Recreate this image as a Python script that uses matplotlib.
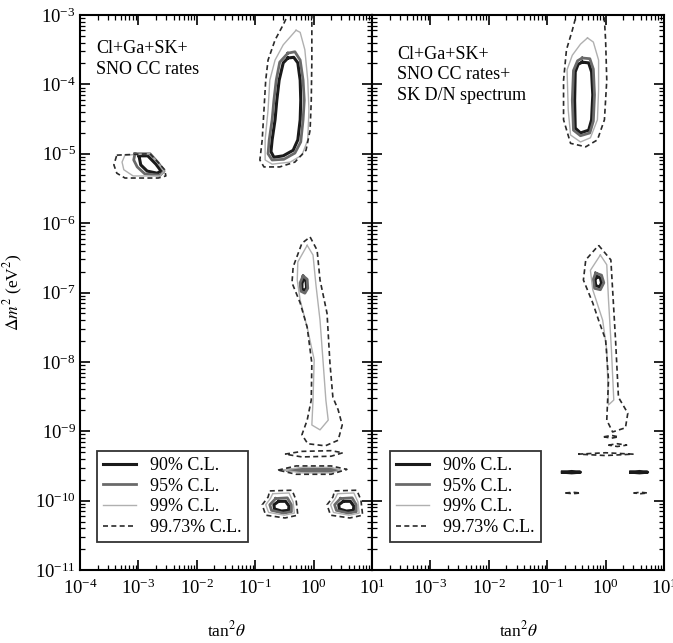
import numpy as np
import matplotlib
matplotlib.use('Agg')
import matplotlib.pyplot as plt
from matplotlib.lines import Line2D

plt.rcParams['font.family'] = 'serif'
plt.rcParams['font.serif'] = ['Liberation Serif', 'DejaVu Serif']
plt.rcParams['mathtext.fontset'] = 'stix'

# ── Contornos: (log10 tan^2θ, log10 Δm^2) ────────────────────────────────────
# Panel izquierdo: Cl+Ga+SK+SNO CC rates
L_LMA_90 = [(-0.44, -3.62), (-0.34, -3.61), (-0.27, -3.69), (-0.23, -3.94), (-0.22, -4.23),
            (-0.23, -4.51), (-0.27, -4.80), (-0.35, -4.95), (-0.52, -5.03), (-0.68, -5.05),
            (-0.73, -4.97), (-0.71, -4.80), (-0.66, -4.51), (-0.63, -4.23), (-0.59, -3.94),
            (-0.52, -3.69)]
L_LMA_95 = [(-0.44, -3.55), (-0.32, -3.53), (-0.23, -3.65), (-0.18, -3.94), (-0.16, -4.23),
            (-0.18, -4.51), (-0.22, -4.83), (-0.32, -4.99), (-0.51, -5.08), (-0.71, -5.09),
            (-0.78, -5.00), (-0.76, -4.80), (-0.71, -4.51), (-0.68, -4.23), (-0.64, -3.94),
            (-0.58, -3.68)]
L_LMA_99 = [(-0.30, -3.22), (-0.23, -3.25), (-0.15, -3.50), (-0.10, -3.94), (-0.08, -4.37),
            (-0.10, -4.80), (-0.20, -5.02), (-0.40, -5.12), (-0.71, -5.15), (-0.83, -5.09),
            (-0.83, -4.80), (-0.78, -4.37), (-0.75, -3.94), (-0.66, -3.65), (-0.52, -3.43)]
L_LMA_997 = [(-0.40, -2.93), (-0.03, -2.93), (-0.03, -3.65), (-0.04, -4.23), (-0.06, -4.66),
             (-0.13, -4.95), (-0.32, -5.12), (-0.58, -5.19), (-0.85, -5.19), (-0.92, -5.09),
             (-0.88, -4.80), (-0.85, -4.37), (-0.82, -3.94), (-0.78, -3.65), (-0.66, -3.36),
             (-0.52, -3.14)]

L_SMA_90 = [(-2.99, -5.03), (-2.84, -5.03), (-2.70, -5.15), (-2.61, -5.25), (-2.68, -5.28),
            (-2.85, -5.25), (-2.96, -5.16)]
L_SMA_95 = [(-3.06, -5.00), (-2.80, -5.00), (-2.66, -5.13), (-2.56, -5.25), (-2.63, -5.31),
            (-2.89, -5.29), (-3.02, -5.19), (-3.08, -5.09)]
L_SMA_99 = [(-3.23, -5.02), (-2.80, -5.00), (-2.68, -5.12), (-2.56, -5.25), (-2.63, -5.32),
            (-3.09, -5.32), (-3.25, -5.23), (-3.28, -5.12)]
L_SMA_997 = [(-3.37, -5.02), (-2.80, -5.00), (-2.70, -5.09), (-2.55, -5.23), (-2.53, -5.32),
             (-2.66, -5.35), (-3.23, -5.35), (-3.37, -5.28), (-3.42, -5.16)]

L_LOW_90 = [(-0.17, -6.80), (-0.13, -6.83), (-0.12, -6.93), (-0.15, -6.97), (-0.20, -6.95),
            (-0.20, -6.87)]
L_LOW_95 = [(-0.18, -6.76), (-0.11, -6.81), (-0.10, -6.94), (-0.15, -7.01), (-0.22, -6.98),
            (-0.23, -6.86)]
L_LOW_99 = [(-0.11, -6.32), (-0.01, -6.46), (0.04, -6.89), (0.11, -7.40), (0.16, -7.97),
            (0.21, -8.55), (0.25, -8.84), (0.11, -8.98), (-0.03, -8.91), (-0.01, -8.55),
            (0.01, -7.97), (-0.10, -7.54), (-0.23, -7.11), (-0.28, -6.82), (-0.27, -6.56)]
L_LOW_997 = [(-0.06, -6.20), (0.06, -6.39), (0.11, -6.82), (0.23, -7.30), (0.28, -8.02),
             (0.33, -8.51), (0.42, -8.69), (0.49, -8.91), (0.42, -9.13), (0.20, -9.21),
             (-0.10, -9.18), (-0.20, -9.05), (-0.11, -8.84), (-0.04, -8.55), (-0.03, -8.02),
             (-0.11, -7.50), (-0.23, -7.15), (-0.37, -6.86), (-0.35, -6.63), (-0.20, -6.29)]

L_BAND1_997 = [(-0.49, -9.33), (-0.20, -9.29), (0.30, -9.28), (0.50, -9.31), (0.30, -9.36),
               (-0.20, -9.37)]
L_BAND2_997 = [(-0.61, -9.56), (-0.30, -9.50), (0.30, -9.50), (0.57, -9.55), (0.30, -9.62),
               (-0.30, -9.62)]
L_BAND2_99 = [(-0.52, -9.56), (-0.20, -9.52), (0.30, -9.52), (0.47, -9.56), (0.30, -9.60),
              (-0.20, -9.60)]
L_BAND2_95 = [(-0.45, -9.56), (-0.10, -9.54), (0.25, -9.54), (0.40, -9.56), (0.25, -9.58),
              (-0.10, -9.58)]

L_BLOBA_997 = [(-0.75, -9.86), (-0.37, -9.85), (-0.30, -9.99), (-0.27, -10.21), (-0.49, -10.25),
               (-0.82, -10.21), (-0.88, -10.06), (-0.78, -9.95)]
L_BLOBA_99 = [(-0.70, -9.90), (-0.42, -9.89), (-0.35, -10.02), (-0.33, -10.18), (-0.50, -10.21),
              (-0.77, -10.17), (-0.82, -10.06), (-0.74, -9.97)]
L_BLOBA_95 = [(-0.65, -9.97), (-0.45, -9.96), (-0.38, -10.06), (-0.38, -10.16), (-0.52, -10.18),
              (-0.72, -10.14), (-0.75, -10.06)]
L_BLOBA_90 = [(-0.60, -10.01), (-0.48, -10.01), (-0.42, -10.08), (-0.43, -10.14), (-0.55, -10.15),
              (-0.67, -10.12), (-0.68, -10.06)]
L_BLOBB_997 = [(0.36, -9.86), (0.74, -9.85), (0.81, -9.99), (0.84, -10.21), (0.62, -10.25),
               (0.29, -10.21), (0.23, -10.06), (0.33, -9.95)]
L_BLOBB_99 = [(0.41, -9.90), (0.69, -9.89), (0.76, -10.02), (0.78, -10.18), (0.61, -10.21),
              (0.34, -10.17), (0.29, -10.06), (0.37, -9.97)]
L_BLOBB_95 = [(0.46, -9.97), (0.66, -9.96), (0.73, -10.06), (0.73, -10.16), (0.59, -10.18),
              (0.39, -10.14), (0.36, -10.06)]
L_BLOBB_90 = [(0.51, -10.01), (0.63, -10.01), (0.69, -10.08), (0.68, -10.14), (0.56, -10.15),
              (0.44, -10.12), (0.43, -10.06)]

# Panel derecho: + SK D/N spectrum
R_LMA_90 = [(-0.40, -3.68), (-0.29, -3.69), (-0.24, -3.82), (-0.22, -4.15), (-0.24, -4.51),
            (-0.29, -4.66), (-0.43, -4.70), (-0.52, -4.63), (-0.53, -4.23), (-0.52, -3.82),
            (-0.47, -3.71)]
R_LMA_95 = [(-0.40, -3.62), (-0.27, -3.63), (-0.21, -3.78), (-0.19, -4.15), (-0.21, -4.53),
            (-0.27, -4.70), (-0.43, -4.74), (-0.55, -4.66), (-0.57, -4.23), (-0.55, -3.80),
            (-0.48, -3.66)]
R_LMA_99 = [(-0.31, -3.33), (-0.21, -3.39), (-0.12, -3.65), (-0.12, -4.08), (-0.14, -4.51),
            (-0.26, -4.77), (-0.43, -4.83), (-0.60, -4.73), (-0.64, -4.37), (-0.66, -3.79),
            (-0.57, -3.58), (-0.43, -3.42)]
R_LMA_997 = [(-0.48, -2.93), (-0.03, -2.93), (0.00, -3.36), (0.02, -3.94), (-0.02, -4.51),
             (-0.14, -4.80), (-0.34, -4.90), (-0.60, -4.85), (-0.72, -4.51), (-0.72, -3.94),
             (-0.67, -3.50), (-0.57, -3.22)]

R_LOW_90 = [(-0.15, -6.77), (-0.09, -6.79), (-0.07, -6.86), (-0.10, -6.92), (-0.17, -6.90),
            (-0.18, -6.82)]
R_LOW_95 = [(-0.17, -6.72), (-0.07, -6.75), (-0.03, -6.86), (-0.09, -6.96), (-0.19, -6.94),
            (-0.21, -6.81)]
R_LOW_99 = [(-0.09, -6.46), (0.02, -6.60), (0.05, -7.11), (0.10, -7.83), (0.14, -8.55),
            (0.05, -8.62), (0.02, -7.83), (-0.05, -7.40), (-0.22, -6.96), (-0.26, -6.68)]
R_LOW_997 = [(-0.12, -6.32), (0.09, -6.53), (0.12, -6.96), (0.17, -7.68), (0.22, -8.51),
             (0.38, -8.74), (0.34, -8.95), (0.12, -9.01), (0.02, -8.84), (0.05, -8.26),
             (0.00, -7.68), (-0.12, -7.40), (-0.22, -7.15), (-0.38, -6.82), (-0.34, -6.53)]

R_DASH1_997 = [(-0.03, -9.08), (0.10, -9.06), (0.22, -9.08), (0.10, -9.10)]
R_DASH2_997 = [(0.05, -9.20), (0.20, -9.18), (0.36, -9.20), (0.20, -9.22)]
R_DASH3_997 = [(-0.47, -9.33), (0.00, -9.31), (0.47, -9.33), (0.00, -9.35)]
R_DASH4A_90 = [(-0.74, -9.59), (-0.58, -9.58), (-0.43, -9.59), (-0.58, -9.60)]
R_DASH4B_90 = [(0.43, -9.59), (0.58, -9.58), (0.72, -9.59), (0.58, -9.60)]
R_DASH5A_997 = [(-0.69, -9.89), (-0.56, -9.88), (-0.43, -9.89), (-0.56, -9.90)]
R_DASH5B_997 = [(0.48, -9.89), (0.60, -9.88), (0.72, -9.89), (0.60, -9.90)]

cl_labels = ['90% C.L.', '95% C.L.', '99% C.L.', '99.73% C.L.']
cl_styles = [dict(color='#1a1a1a', lw=2.2, ls='-'),
             dict(color='#6a6a6a', lw=2.0, ls='-'),
             dict(color='#b0b0b0', lw=1.0, ls='-'),
             dict(color='#2a2a2a', lw=1.2, ls=(0, (3, 2)))]

left_sets = [
    [L_LMA_90, L_SMA_90, L_LOW_90, L_BLOBA_90, L_BLOBB_90],
    [L_LMA_95, L_SMA_95, L_LOW_95, L_BAND2_95, L_BLOBA_95, L_BLOBB_95],
    [L_LMA_99, L_SMA_99, L_LOW_99, L_BAND2_99, L_BLOBA_99, L_BLOBB_99],
    [L_LMA_997, L_SMA_997, L_LOW_997, L_BAND1_997, L_BAND2_997, L_BLOBA_997, L_BLOBB_997],
]
right_sets = [
    [R_LMA_90, R_LOW_90, R_DASH4A_90, R_DASH4B_90],
    [R_LMA_95, R_LOW_95],
    [R_LMA_99, R_LOW_99],
    [R_LMA_997, R_LOW_997, R_DASH1_997, R_DASH2_997, R_DASH3_997, R_DASH5A_997, R_DASH5B_997],
]

fig = plt.figure(figsize=(6.73, 6.43), dpi=100)
W, H = 673, 643
ax1 = fig.add_axes([80 / W, 1 - 570 / H, 292 / W, 555 / H])
ax2 = fig.add_axes([372 / W, 1 - 570 / H, 292 / W, 555 / H])


def draw(ax, sets):
    for curves, st in zip(sets, cl_styles):
        for c in curves:
            pts = np.array(c + [c[0]])
            ax.plot(10 ** pts[:, 0], 10 ** pts[:, 1], solid_joinstyle='round', **st)


draw(ax1, left_sets)
draw(ax2, right_sets)

for ax in (ax1, ax2):
    ax.set_xscale('log')
    ax.set_yscale('log')
    ax.set_xlim(1e-4, 1e1)
    ax.set_ylim(1e-11, 1e-3)
    ax.set_xticks([1e-4, 1e-3, 1e-2, 1e-1, 1e0, 1e1])
    ax.set_yticks([10.0 ** k for k in range(-11, -2)])
    ax.tick_params(which='both', direction='in', top=True, right=True, labelsize=13.5)
    ax.tick_params(which='major', length=7, width=1.2)
    ax.tick_params(which='minor', length=3.5, width=0.9)
    ax.tick_params(axis='x', pad=6)
    ax.tick_params(axis='y', pad=3)
    for s in ax.spines.values():
        s.set_linewidth(1.5)
    ax.set_xlabel(r'tan$^2\theta$', fontsize=12.5)
    ax.xaxis.set_label_coords(0.5, -0.09)

ax2.set_yticklabels([])
ax2.get_xticklabels()[0].set_visible(False)

ax1.set_ylabel(r'$\Delta m^2$ (eV$^2$)', fontsize=12.5)
ax1.yaxis.set_label_coords(-0.19, 0.5)

ax1.text(0.055, 0.955, 'Cl+Ga+SK+\nSNO CC rates', transform=ax1.transAxes,
         fontsize=13, va='top', ha='left', linespacing=1.3)
ax2.text(0.085, 0.945, 'Cl+Ga+SK+\nSNO CC rates+\nSK D/N spectrum', transform=ax2.transAxes,
         fontsize=13, va='top', ha='left', linespacing=1.3)

handles = [Line2D([], [], **st) for st in cl_styles]
for ax, x0 in ((ax1, 0.058), (ax2, 0.062)):
    leg = ax.legend(handles, cl_labels, loc='lower left', bbox_to_anchor=(x0, 0.05),
                    borderaxespad=0, fontsize=13, frameon=True, fancybox=False,
                    edgecolor='black', handlelength=1.8, labelspacing=0.2, borderpad=0.35,
                    handletextpad=0.8)
    leg.get_frame().set_linewidth(1.3)

fig.savefig('out.png', dpi=100, facecolor='white')
